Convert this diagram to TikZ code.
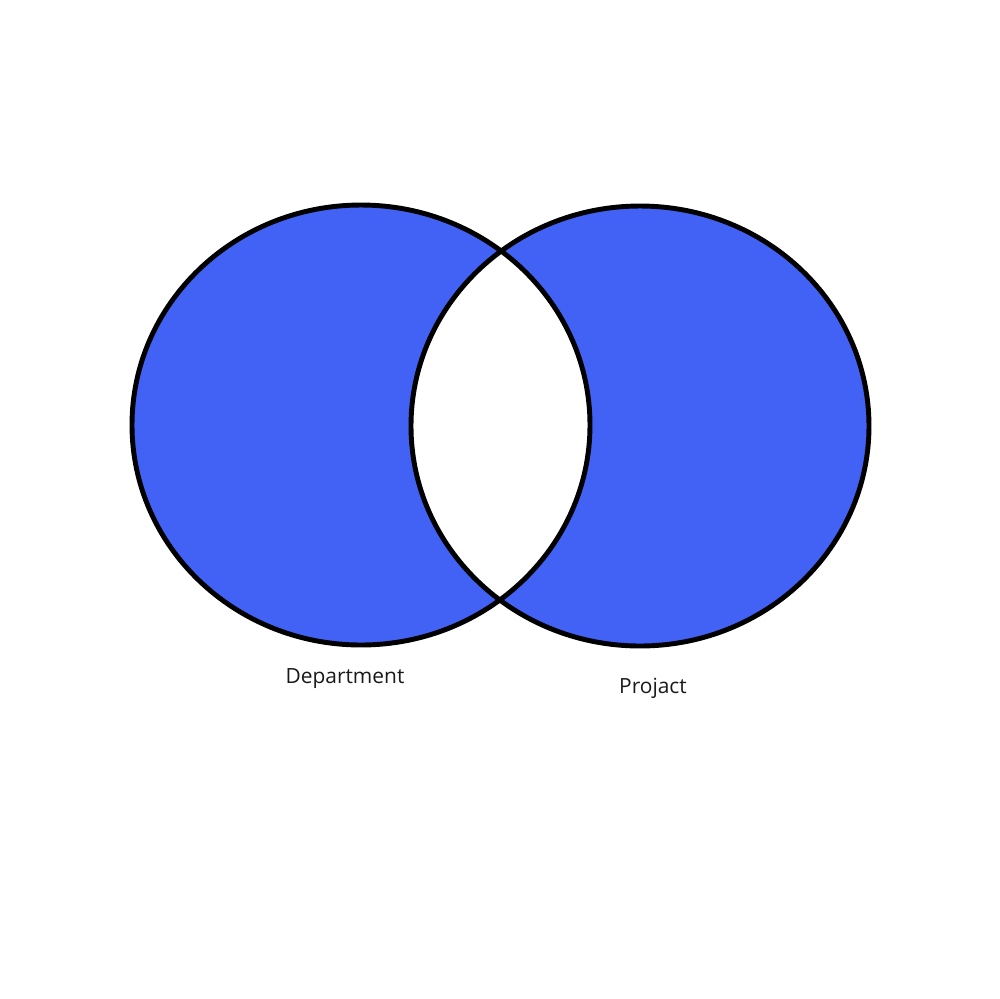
\documentclass[tikz,border=0pt]{standalone}
\usepackage{fontspec}
\setmainfont{Open Sans}
\usepackage{xcolor}
\definecolor{setblue}{HTML}{4162F4}
\tikzset{
  setline/.style={
    draw=black,
    line width=1.4pt
  },
  setlabel/.style={
    font=\fontsize{5.95}{7}\selectfont,
    text=black!90,
    inner sep=0pt
  }
}

\begin{document}
\begin{tikzpicture}[x=0.01cm, y=-0.01cm]
\useasboundingbox (0,0) rectangle (999,999);
% symmetric difference of the two sets
\fill[setblue, even odd rule] (361,425) ellipse [x radius=229, y radius=220]
  (640,426) ellipse [x radius=229, y radius=220];
\draw[setline] (361,425) ellipse [x radius=229, y radius=220];
\draw[setline] (640,426) ellipse [x radius=229, y radius=220];
\node[setlabel] (dept) at (345,679) {Department};
\node[setlabel] (proj) at (653,688) {Projact};
\end{tikzpicture}
\end{document}
